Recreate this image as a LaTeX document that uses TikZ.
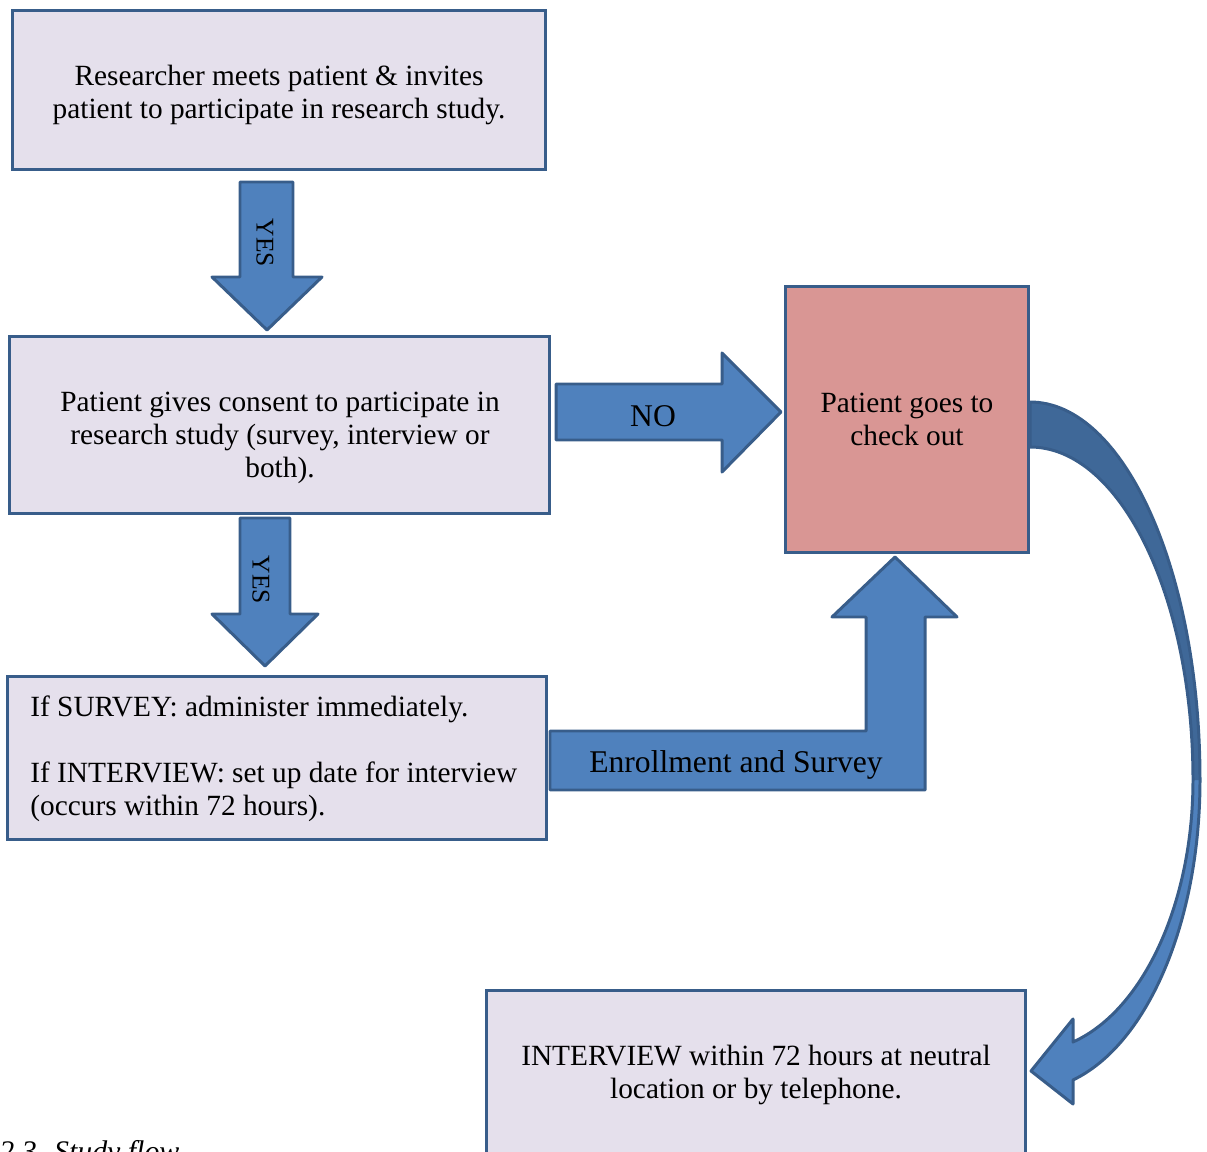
\documentclass[tikz,border=0pt]{standalone}
\usepackage{fontspec}
\setmainfont{Liberation Serif}
\usetikzlibrary{positioning}
\definecolor{boxline}{RGB}{56,93,138}
\definecolor{boxfill}{RGB}{229,224,236}
\definecolor{outfill}{RGB}{217,150,148}
\definecolor{arrfill}{RGB}{79,129,189}
\definecolor{arrdark}{RGB}{63,104,152}
\tikzset{
  stepbox/.style={rectangle, draw=boxline, fill=boxfill, line width=1.7pt,
    align=center, inner sep=0pt, font=\fontsize{16.7}{18.8}\selectfont},
  outbox/.style={stepbox, fill=outfill},
  boxtext/.style={align=center, inner sep=0pt, font=\fontsize{16.7}{18.8}\selectfont},
  blockarrow/.style={draw=boxline, fill=arrfill, line width=1.7pt, line join=round},
  arrlbl/.style={font=\fontsize{18}{20}\selectfont},
  yeslbl/.style={font=\fontsize{14.5}{16}\selectfont, rotate=-90}
}

\begin{document}
\begin{tikzpicture}[x=0.02cm, y=-0.02cm]
\clip (0,0) rectangle (1207,1152);

% Boxes
\node[stepbox, minimum width=10.68cm, minimum height=3.2cm] (meet) at (279,90) {};
\node[boxtext] (meettext) at (279,95)
  {Researcher meets patient \& invites\\patient to participate in research study.};
\node[stepbox, minimum width=10.82cm, minimum height=3.56cm] (consent) at (279.5,425) {};
\node[boxtext] (consenttext) at (280,438)
  {Patient gives consent to participate in\\research study (survey, interview or\\both).};
\node[stepbox, minimum width=10.8cm, minimum height=3.28cm] (plan) at (277,758) {};
\node[boxtext, align=left, anchor=west] (plantext) at (30,759)
  {If SURVEY: administer immediately.\\\mbox{}\\If INTERVIEW: set up date for interview\\(occurs within 72 hours).};
\node[outbox, minimum width=4.88cm, minimum height=5.34cm] (checkout) at (907,419.5)
  {Patient goes to\\check out};
\node[stepbox, minimum width=10.8cm, minimum height=3.4cm] (interview) at (756,1075)
  {INTERVIEW within 72 hours at neutral\\location or by telephone.};

% YES arrows
\draw[blockarrow] (240,182) -- (293,182) -- (293,277) -- (322,277) -- (267,330)
  -- (212,277) -- (240,277) -- cycle;
\node[yeslbl] (yes1) at (265,243) {YES};
\draw[blockarrow] (240,518) -- (290,518) -- (290,614) -- (318,614) -- (265,666)
  -- (212,614) -- (240,614) -- cycle;
\node[yeslbl] (yes2) at (261,580) {YES};

% NO arrow
\draw[blockarrow] (556,384) -- (722,384) -- (722,353) -- (781,412) -- (722,472)
  -- (722,440) -- (556,440) -- cycle;
\node[arrlbl] (no) at (653,416) {NO};

% Enrollment arrow
\draw[blockarrow] (550,731) -- (866,731) -- (866,617) -- (832,617) -- (895,557)
  -- (957,617) -- (925,617) -- (925,790) -- (550,790) -- cycle;
\node[arrlbl] (enroll) at (736,765) {Enrollment and Survey};

% Curved arrow to interview
\fill[arrfill] (1200,780) .. controls (1200,921) and (1148,1044) .. (1073,1080)
  -- (1073,1104) -- (1031,1071) -- (1073,1019) -- (1073,1042)
  .. controls (1144,1010) and (1193,902) .. (1193,780) -- cycle;
\fill[arrdark] (1030,402) .. controls (1124,402) and (1200,571) .. (1200,780)
  -- (1193,780) .. controls (1193,596) and (1120,447) .. (1030,447) -- cycle;
\draw[boxline, line width=1.7pt, line join=round]
  (1030,402) .. controls (1124,402) and (1200,571) .. (1200,780)
  .. controls (1200,921) and (1148,1044) .. (1073,1080)
  -- (1073,1104) -- (1031,1071) -- (1073,1019) -- (1073,1042)
  .. controls (1144,1010) and (1193,902) .. (1193,780)
  .. controls (1193,596) and (1120,447) .. (1030,447) -- cycle;

% Caption (cut at the page edge)
\node[anchor=base west, inner sep=0pt, font=\fontsize{17}{19}\selectfont\itshape]
  (caption) at (-1,1161) {2.3. Study flow};
\end{tikzpicture}
\end{document}
